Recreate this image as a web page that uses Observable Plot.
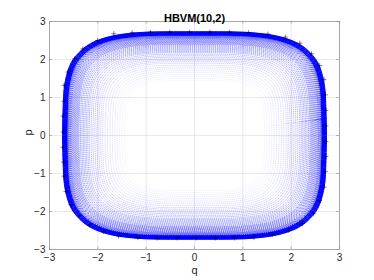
<!DOCTYPE html>
<html>
<head>
<meta charset="utf-8">
<script src="https://cdn.jsdelivr.net/npm/d3@7"></script>
<script src="https://cdn.jsdelivr.net/npm/@observablehq/plot@0.6"></script>
<style>
  html, body { margin: 0; padding: 0; background: #fff; }
  #chart svg { display: block; }
</style>
</head>
<body>
<div id="chart"></div>
<script>
// ---- text ----
const titleText = "HBVM(10,2)";
const xLabel = "q";
const yLabel = "p";
const tickValues = [-3, -2, -1, 0, 1, 2, 3];

// ---- outer orbit, first quadrant ----
const contourQ = [2.73, 2.725, 2.715, 2.70, 2.67, 2.62, 2.55, 2.45, 2.32, 2.15, 1.95, 1.70, 1.40, 1.00, 0.50, 0.00];
const contourP = [0.00, 0.45, 0.85, 1.20, 1.45, 1.70, 1.92, 2.10, 2.27, 2.42, 2.53, 2.62, 2.68, 2.72, 2.73, 2.73];

// ---- nested orbit sizes (q-axis crossing), inner boundary to outer edge ----
const ringRadii = [1.45, 1.50, 1.55, 1.60, 1.65, 1.70, 1.75, 1.80, 1.85, 1.90, 1.94, 1.98, 2.02, 2.06, 2.10,
  2.14, 2.18, 2.21, 2.24, 2.27, 2.30, 2.33, 2.36, 2.39, 2.41, 2.43, 2.45, 2.47, 2.49, 2.51, 2.53, 2.55,
  2.565, 2.58, 2.595, 2.61, 2.62, 2.63, 2.64, 2.65, 2.66, 2.67, 2.68, 2.69, 2.70, 2.71, 2.72, 2.73];

// ---- step points ("+" markers) on the outer orbit ----
const markerQ = [-1.67, -1.29, -0.91, -0.51, -0.10, 0.32, 0.73, 1.12, 1.52, 1.88, 2.18, 2.42, 2.59, 2.68, 2.71,
  2.72, 2.72, 2.72, 2.72, 2.71, 2.68, 2.59, 2.46, 2.23, 1.95, 1.61, 1.23, 0.83, 0.43, 0.03, -0.36, -0.77,
  -1.17, -1.57, -1.88, -2.17, -2.39, -2.56, -2.66, -2.70, -2.71, -2.72, -2.72, -2.72, -2.70, -2.70, -2.62,
  -2.48, -2.31, -2.01];
const markerP = [2.68, 2.71, 2.72, 2.72, 2.72, 2.72, 2.72, 2.71, 2.67, 2.59, 2.43, 2.15, 1.84, 1.47, 1.07,
  0.66, 0.25, -0.16, -0.55, -0.95, -1.36, -1.71, -2.06, -2.32, -2.50, -2.61, -2.68, -2.70, -2.70, -2.70, -2.70, -2.70,
  -2.69, -2.65, -2.53, -2.35, -2.11, -1.82, -1.47, -1.07, -0.70, -0.31, 0.09, 0.51, 0.90, 1.32, 1.67,
  2.02, 2.28, 2.50];

// ---- build tables ----
const n = contourQ.length;
const R0 = contourQ[0];
const shape = [];
for (let i = 0; i < n; i++) shape.push([contourQ[i], contourP[i]]);
for (let i = n - 2; i >= 0; i--) shape.push([-contourQ[i], contourP[i]]);
for (let i = 1; i < n; i++) shape.push([-contourQ[i], -contourP[i]]);
for (let i = n - 2; i >= 1; i--) shape.push([contourQ[i], -contourP[i]]);

const rings = [];
ringRadii.forEach((r, k) => {
  const s = r / R0;
  shape.forEach(([q, p]) => rings.push({ring: k, r, q: q * s, p: p * s}));
});
const markers = markerQ.map((q, i) => ({q, p: markerP[i]}));

const font = "'Liberation Sans', Helvetica, Arial, sans-serif";
const axisColor = "#262626";

const chart = Plot.plot({
  width: 374,
  height: 280,
  marginLeft: 49,
  marginRight: 35,
  marginTop: 21,
  marginBottom: 31,
  style: {fontFamily: font, fontSize: "10px", color: axisColor, background: "#fff"},
  x: {domain: [-3, 3], ticks: tickValues, label: null},
  y: {domain: [-3, 3], ticks: tickValues, label: null},
  opacity: {domain: [1.45, 2.64], range: [0.07, 0.85], type: "pow", exponent: 3},
  marks: [
    Plot.gridX(tickValues, {stroke: "#e3e3e3", strokeOpacity: 1, strokeWidth: 0.8}),
    Plot.gridY(tickValues, {stroke: "#e3e3e3", strokeOpacity: 1, strokeWidth: 0.8}),
    Plot.line(rings.filter(d => d.r < 2.64), {
      x: "q", y: "p", z: "ring", curve: "catmull-rom-closed",
      stroke: "blue", strokeOpacity: "r", strokeWidth: 0.7, strokeDasharray: "0.6 1.5"
    }),
    Plot.line(rings.filter(d => d.r >= 2.64), {
      x: "q", y: "p", z: "ring", curve: "catmull-rom-closed",
      stroke: "blue", strokeOpacity: 1, strokeWidth: 1
    }),
    Plot.dot(markers, {x: "q", y: "p", symbol: "plus", r: 1.7, stroke: "#000", strokeWidth: 0.5}),
    Plot.frame({stroke: "#8c8c8c", strokeWidth: 0.7}),
    Plot.ruleX(tickValues, {y1: -3, y2: -2.93, stroke: "#8c8c8c", strokeWidth: 0.6}),
    Plot.ruleX(tickValues, {y1: 3, y2: 2.93, stroke: "#8c8c8c", strokeWidth: 0.6}),
    Plot.ruleY(tickValues, {x1: -3, x2: -2.94, stroke: "#8c8c8c", strokeWidth: 0.6}),
    Plot.ruleY(tickValues, {x1: 3, x2: 2.94, stroke: "#8c8c8c", strokeWidth: 0.6}),
    Plot.axisX(tickValues, {tickSize: 0, tickPadding: 4, fontSize: 10, label: null}),
    Plot.axisY(tickValues, {tickSize: 0, tickPadding: 4, fontSize: 10, label: null}),
    Plot.text([titleText], {frameAnchor: "top", dy: -7, fontWeight: "bold", fontSize: 11, fill: "#000"}),
    Plot.text([xLabel], {frameAnchor: "bottom", dy: 24, fontSize: 11, fill: axisColor}),
    Plot.text([yLabel], {frameAnchor: "left", dx: -21, rotate: -90, fontSize: 11, fill: axisColor})
  ]
});
document.getElementById("chart").appendChild(chart);
</script>
</body>
</html>
